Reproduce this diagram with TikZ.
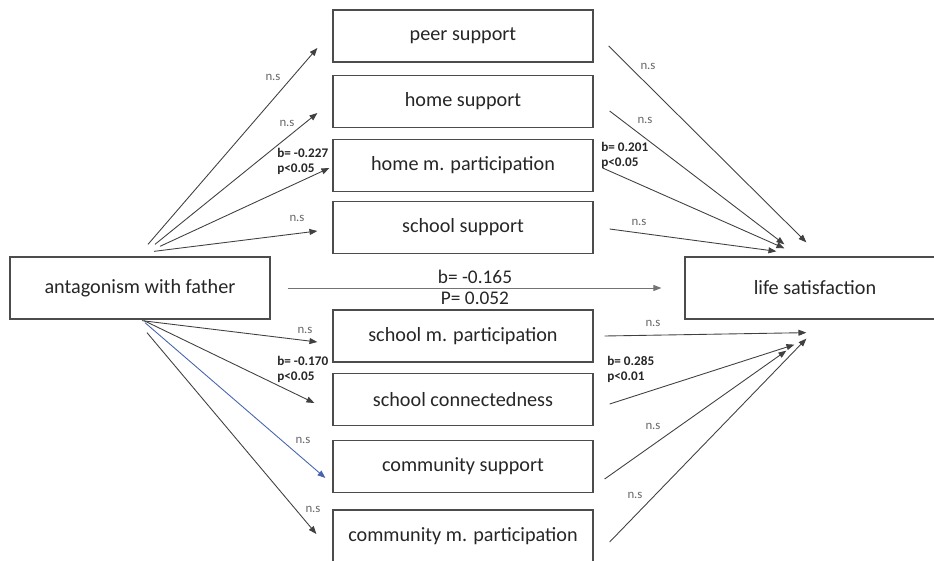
\documentclass[tikz,border=0pt]{standalone}
\usepackage{fontspec}
\setmainfont{Carlito}
\usetikzlibrary{arrows.meta}

\begin{document}
\begin{tikzpicture}[x=0.02cm, y=-0.02cm,
		box/.style={draw=black!70, line width=0.75pt, minimum width=5.2cm, minimum height=1.04cm, inner sep=0pt, text=black!85, font=\fontsize{11.5}{13}\selectfont},
		link/.style={draw=black!75, line width=0.5pt, -{Triangle[length=4.5pt, width=3.4pt]}},
		ns/.style={text=black!60, font=\fontsize{7.3}{8}\selectfont, inner sep=0pt},
		coef/.style={text=black!85, font=\bfseries\fontsize{7.5}{8.5}\selectfont, align=left, anchor=west, inner sep=0pt}]
			\useasboundingbox (0,0) rectangle (934,561);

			% outer variables
			\node[box, minimum height=1.24cm] (father) at (140,288) {antagonism with father};
			\node[box, minimum height=1.24cm] (life) at (815,288) {life satisfaction};

			% mediators
			\node[box] (peer) at (463,36) {peer support};
			\node[box] (home) at (463,101.5) {home support};
			\node[box] (homemp) at (463,165.5) {home m. participation};
			\node[box] (school) at (463,227.5) {school support};
			\node[box] (schoolmp) at (463,336) {school m. participation};
			\node[box] (connect) at (463,399.5) {school connectedness};
			\node[box] (commsup) at (463,466.5) {community support};
			\node[box] (commmp) at (463,536) {community m. participation};

			% direct effect
			\draw[link, draw=black!55] ([shift={(17,0)}]father.east) -- ([shift={(-23,0)}]life.west);
			\node[text=black!85, font=\fontsize{11}{13}\selectfont] (bdir) at (475,277) {b= -0.165};
			\node[text=black!85, font=\fontsize{11}{13}\selectfont] (pdir) at (475,298) {P= 0.052};

			% a paths
			\draw[link] ([shift={(8,-12)}]father.north) -- ([shift={(-15,12)}]peer.west);
			\draw[link] ([shift={(15,-12)}]father.north) -- ([shift={(-15,11.5)}]home.west);
			\draw[link] ([shift={(20,-10)}]father.north) -- ([shift={(-3,2.5)}]homemp.west);
			\draw[link] ([shift={(14,-5)}]father.north) -- ([shift={(-15,3.5)}]school.west);
			\draw[link] ([shift={(2,1)}]father.south) -- ([shift={(-15,6)}]schoolmp.west);
			\draw[link] ([shift={(4,1)}]father.south) -- ([shift={(-18,3.5)}]connect.west);
			\draw[link, draw={rgb,255:red,70;green,100;blue,175}] ([shift={(5,3)}]father.south) -- ([shift={(-7,11.5)}]commsup.west);
			\draw[link] ([shift={(7,13)}]father.south) -- ([shift={(-16,-2)}]commmp.west);

			% b paths
			\draw[link] ([shift={(15,10)}]peer.east) -- ([shift={(122,-14)}]life.north west);
			\draw[link] ([shift={(16,9.5)}]home.east) -- ([shift={(100,-12)}]life.north west);
			\draw[link] ([shift={(9,2.5)}]homemp.east) -- ([shift={(100,-8)}]life.north west);
			\draw[link] ([shift={(16,1.5)}]school.east) -- ([shift={(92,-5)}]life.north west);
			\draw[link] ([shift={(11,0)}]schoolmp.east) -- ([shift={(122,13)}]life.south west);
			\draw[link] ([shift={(16,4.5)}]connect.east) -- ([shift={(110,25)}]life.south west);
			\draw[link] ([shift={(11,12.5)}]commsup.east) -- ([shift={(102,31)}]life.south west);
			\draw[link] ([shift={(16,6)}]commmp.east) -- ([shift={(122,19)}]life.south west);

			% labels
			\node[ns] (ns1) at (273,77) {n.s};
			\node[ns] (ns2) at (287,123) {n.s};
			\node[coef] (c1) at (277,161.5) {b= -0.227\\p<0.05};
			\node[ns] (ns3) at (297,218) {n.s};
			\node[ns] (ns4) at (305,330) {n.s};
			\node[coef] (c2) at (277,369) {b= -0.170\\p<0.05};
			\node[ns] (ns5) at (303,440) {n.s};
			\node[ns] (ns6) at (313,509) {n.s};

			\node[ns] (ns7) at (648,66) {n.s};
			\node[ns] (ns8) at (645,120) {n.s};
			\node[coef] (c3) at (601,155.5) {b= 0.201\\p<0.05};
			\node[ns] (ns9) at (639,222) {n.s};
			\node[ns] (ns10) at (653,323) {n.s};
			\node[coef] (c4) at (607,369.5) {b= 0.285\\p<0.01};
			\node[ns] (ns11) at (653,426) {n.s};
			\node[ns] (ns12) at (635,495) {n.s};
		\end{tikzpicture}
\end{document}
